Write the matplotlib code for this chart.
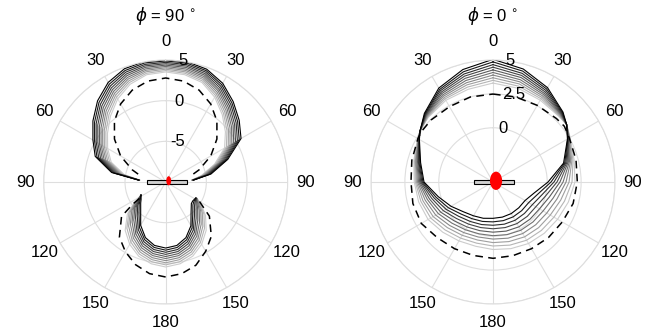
import numpy as np
import matplotlib
matplotlib.use("Agg")
import matplotlib.pyplot as plt
from matplotlib.patches import Ellipse, Rectangle

plt.rcParams['font.family'] = ['Liberation Sans', 'DejaVu Sans']
plt.rcParams['mathtext.fontset'] = 'dejavusans'

# ---------------------------------------------------------------------------
# Gain patterns (dB).  Angles in degrees, measured clockwise from the zenith.
# Each table row is one angle, each column one step of the parameter sweep
# (first column = darkest curve).
# ---------------------------------------------------------------------------

# phi = 90 deg cut, main lobe
front90_theta = [-86, -80, -70, -60, -50, -40, -30, -20, -10, 0,
                 10, 20, 30, 40, 50, 60, 70, 80, 86]
front90_gain = [
    [-6.68, -6.69, -6.71, -6.72, -6.73, -6.75, -6.76, -6.77, -6.79, -6.80],
    [-3.24, -3.42, -3.60, -3.77, -3.95, -4.13, -4.31, -4.48, -4.66, -4.84],
    [-0.78, -1.01, -1.24, -1.48, -1.71, -1.94, -2.17, -2.40, -2.64, -2.87],
    [0.33, 0.10, -0.13, -0.37, -0.60, -0.83, -1.06, -1.29, -1.53, -1.76],
    [1.68, 1.42, 1.16, 0.90, 0.64, 0.38, 0.12, -0.14, -0.40, -0.66],
    [3.03, 2.76, 2.48, 2.21, 1.94, 1.66, 1.39, 1.12, 0.84, 0.57],
    [4.14, 3.88, 3.62, 3.36, 3.10, 2.84, 2.58, 2.32, 2.06, 1.80],
    [4.82, 4.59, 4.37, 4.14, 3.92, 3.69, 3.47, 3.24, 3.02, 2.79],
    [5.05, 4.87, 4.68, 4.50, 4.32, 4.13, 3.95, 3.77, 3.58, 3.40],
    [5.05, 4.88, 4.71, 4.54, 4.37, 4.21, 4.04, 3.87, 3.70, 3.53],
    [5.03, 4.85, 4.67, 4.49, 4.31, 4.12, 3.94, 3.76, 3.58, 3.40],
    [4.76, 4.57, 4.38, 4.18, 3.99, 3.80, 3.61, 3.42, 3.22, 3.03],
    [4.02, 3.80, 3.58, 3.36, 3.14, 2.93, 2.71, 2.49, 2.27, 2.05],
    [2.91, 2.68, 2.45, 2.21, 1.98, 1.75, 1.52, 1.29, 1.05, 0.82],
    [1.80, 1.55, 1.31, 1.06, 0.82, 0.57, 0.33, 0.08, -0.16, -0.41],
    [0.70, 0.44, 0.18, -0.08, -0.34, -0.60, -0.86, -1.12, -1.38, -1.64],
    [-1.88, -2.07, -2.26, -2.46, -2.65, -2.84, -3.03, -3.23, -3.42, -3.61],
    [-4.34, -4.48, -4.61, -4.75, -4.89, -5.02, -5.16, -5.30, -5.43, -5.57],
    [-6.56, -6.59, -6.61, -6.64, -6.67, -6.69, -6.72, -6.75, -6.77, -6.80],
]

# phi = 90 deg cut, back lobe
back90_theta = [118, 125, 130, 140, 150, 160, 170, 180,
                190, 200, 210, 220, 230, 235, 242]
back90_gain = [
    [-5.82, -5.79, -5.76, -5.74, -5.71, -5.68, -5.65, -5.63, -5.60, -5.57],
    [-5.94, -5.78, -5.61, -5.45, -5.29, -5.12, -4.96, -4.80, -4.63, -4.47],
    [-5.88, -5.63, -5.38, -5.12, -4.87, -4.62, -4.37, -4.12, -3.86, -3.61],
    [-5.14, -4.82, -4.50, -4.18, -3.86, -3.53, -3.21, -2.89, -2.57, -2.25],
    [-3.79, -3.50, -3.20, -2.91, -2.62, -2.33, -2.03, -1.74, -1.44, -1.15],
    [-2.72, -2.45, -2.18, -1.91, -1.64, -1.37, -1.10, -0.83, -0.56, -0.29],
    [-2.08, -1.83, -1.57, -1.32, -1.06, -0.81, -0.55, -0.30, -0.05, 0.21],
    [-1.88, -1.62, -1.36, -1.10, -0.84, -0.59, -0.33, -0.07, 0.19, 0.45],
    [-2.08, -1.83, -1.57, -1.32, -1.06, -0.81, -0.55, -0.30, -0.05, 0.21],
    [-2.72, -2.45, -2.18, -1.91, -1.64, -1.37, -1.10, -0.83, -0.56, -0.29],
    [-3.85, -3.55, -3.25, -2.95, -2.65, -2.35, -2.05, -1.75, -1.45, -1.15],
    [-5.22, -4.89, -4.56, -4.23, -3.90, -3.57, -3.24, -2.91, -2.58, -2.25],
    [-5.99, -5.75, -5.51, -5.28, -5.04, -4.80, -4.56, -4.32, -4.09, -3.85],
    [-6.31, -6.17, -6.04, -5.90, -5.76, -5.62, -5.49, -5.35, -5.21, -5.08],
    [-6.56, -6.56, -6.56, -6.56, -6.56, -6.56, -6.56, -6.56, -6.56, -6.56],
]

# phi = 90 deg cut, reference pattern (dashed)
ref90_front_theta = [-74, -70, -60, -50, -40, -30, -20, -10, 0,
                     10, 20, 30, 40, 50, 60, 70, 74]
ref90_front_gain = [-6.48, -5.63, -3.60, -1.78, -0.20, 1.08, 2.02, 2.60, 2.79,
                    2.60, 2.02, 1.08, -0.20, -1.78, -3.60, -5.63, -6.48]
ref90_back_theta = [120, 128, 140, 150, 160, 170, 180,
                    190, 200, 210, 220, 232, 236, 239]
ref90_back_gain = [-5.20, -3.18, -1.27, -0.16, 0.88, 1.44, 1.68,
                   1.44, 0.82, -0.10, -1.15, -3.11, -5.08, -6.56]

# phi = 0 deg cut, full turn
cut0_theta = [0, 15, 30, 45, 52, 60, 75, 90, 105, 120, 135, 150, 165,
              180, 195, 210, 225, 240, 255, 270, 285, 300, 305, 315, 330, 345]
cut0_gain = [
    [5.05, 4.86, 4.66, 4.47, 4.27, 4.08, 3.89, 3.69, 3.50, 3.30],
    [4.63, 4.47, 4.30, 4.14, 3.98, 3.81, 3.65, 3.49, 3.32, 3.16],
    [4.04, 3.92, 3.80, 3.68, 3.56, 3.45, 3.33, 3.21, 3.09, 2.97],
    [3.30, 3.25, 3.20, 3.15, 3.10, 3.06, 3.01, 2.96, 2.91, 2.86],
    [2.89, 2.89, 2.89, 2.89, 2.89, 2.89, 2.89, 2.89, 2.89, 2.89],
    [2.34, 2.37, 2.39, 2.42, 2.44, 2.47, 2.49, 2.52, 2.54, 2.57],
    [1.39, 1.48, 1.57, 1.66, 1.75, 1.84, 1.93, 2.02, 2.11, 2.20],
    [0.06, 0.28, 0.50, 0.72, 0.94, 1.17, 1.39, 1.61, 1.83, 2.05],
    [-0.86, -0.57, -0.28, 0.01, 0.30, 0.59, 0.88, 1.17, 1.46, 1.75],
    [-1.27, -0.96, -0.65, -0.35, -0.04, 0.27, 0.58, 0.88, 1.19, 1.50],
    [-1.31, -1.01, -0.72, -0.42, -0.13, 0.17, 0.46, 0.76, 1.05, 1.35],
    [-1.31, -1.03, -0.74, -0.46, -0.18, 0.11, 0.39, 0.67, 0.96, 1.24],
    [-1.32, -1.05, -0.78, -0.52, -0.25, 0.02, 0.29, 0.55, 0.82, 1.09],
    [-1.32, -1.06, -0.81, -0.55, -0.30, -0.04, 0.21, 0.47, 0.72, 0.98],
    [-1.23, -0.99, -0.75, -0.52, -0.28, -0.04, 0.20, 0.43, 0.67, 0.91],
    [-1.12, -0.88, -0.64, -0.41, -0.17, 0.07, 0.31, 0.54, 0.78, 1.02],
    [-0.90, -0.66, -0.42, -0.19, 0.05, 0.29, 0.53, 0.76, 1.00, 1.24],
    [-0.42, -0.20, 0.01, 0.23, 0.45, 0.66, 0.88, 1.10, 1.31, 1.53],
    [0.18, 0.35, 0.51, 0.68, 0.85, 1.01, 1.18, 1.35, 1.51, 1.68],
    [1.09, 1.17, 1.25, 1.33, 1.41, 1.49, 1.57, 1.65, 1.73, 1.81],
    [1.53, 1.59, 1.65, 1.70, 1.76, 1.82, 1.88, 1.93, 1.99, 2.05],
    [2.27, 2.29, 2.30, 2.32, 2.34, 2.35, 2.37, 2.39, 2.40, 2.42],
    [2.57, 2.57, 2.57, 2.57, 2.57, 2.57, 2.57, 2.57, 2.57, 2.57],
    [3.16, 3.11, 3.07, 3.02, 2.98, 2.93, 2.89, 2.84, 2.80, 2.75],
    [4.00, 3.88, 3.77, 3.65, 3.54, 3.42, 3.31, 3.19, 3.08, 2.96],
    [4.59, 4.42, 4.25, 4.09, 3.92, 3.75, 3.58, 3.42, 3.25, 3.08],
]
ref0_gain = [2.49, 2.49, 2.53, 2.62, 2.68, 2.50, 2.34, 2.22, 2.12, 1.90, 1.79,
             1.68, 1.63, 1.63, 1.61, 1.68, 1.81, 2.11, 2.12, 2.05, 2.20, 2.40,
             2.46, 2.47, 2.42, 2.49]

theta_tick_labels = ['0', '30', '60', '90', '120', '150', '180',
                     '150', '120', '90', '60', '30']
titles = [r'$\phi$ = 90 $^{\circ}$', r'$\phi$ = 0 $^{\circ}$']

# ---------------------------------------------------------------------------
GRID = '#dedede'
N_SWEEP = len(cut0_gain[0])
shades = [str(v) for v in np.linspace(0.0, 0.8, N_SWEEP)]

fig = plt.figure(figsize=(6.51, 3.35), dpi=100)
rects = [[0.0671, 0.0925, 0.3748, 0.7284], [0.5699, 0.0925, 0.3748, 0.7284]]
centers_x = [165.7 / 651, 493.0 / 651]
RLABEL_ANGLE = np.deg2rad(6)


def style_polar(ax, rmin, rmax, rticks, rlabels):
    ax.set_theta_zero_location('N')
    ax.set_theta_direction(-1)
    ax.set_rlim(rmin, rmax)
    ax.set_rticks(rticks)
    ax.set_yticklabels([])
    for r, s in zip(rticks, rlabels):
        ax.text(RLABEL_ANGLE, r, s, ha='left', va='center', fontsize=12,
                zorder=5, clip_on=False)
    ax.set_thetagrids(np.arange(0, 360, 30), labels=theta_tick_labels, fontsize=12)
    ax.tick_params(axis='x', pad=2.5)
    ax.grid(True, color=GRID, lw=0.8)
    ax.spines['polar'].set_color(GRID)
    ax.spines['polar'].set_linewidth(0.8)
    ax.set_facecolor('white')


def draw_sweep(ax, theta_deg, table, closed=False):
    th = np.deg2rad(np.asarray(theta_deg, float))
    g = np.asarray(table, float)
    if closed:
        th = np.append(th, th[0] + 2 * np.pi)
        g = np.vstack([g, g[:1]])
    for k in range(g.shape[1] - 1, -1, -1):
        ax.plot(th, g[:, k], color=shades[k], lw=0.8)


def draw_reference(ax, theta_deg, gain, closed=False):
    th = np.deg2rad(np.asarray(theta_deg, float))
    g = np.asarray(gain, float)
    if closed:
        th = np.append(th, th[0] + 2 * np.pi)
        g = np.append(g, g[0])
    ax.plot(th, g, color='black', lw=1.1, ls=(0, (5, 3.5)))


# left panel: phi = 90 deg
ax1 = fig.add_axes(rects[0], projection='polar')
style_polar(ax1, -10, 5, [-5, 0, 5], ['-5', '0', '5'])
draw_sweep(ax1, front90_theta, front90_gain)
draw_sweep(ax1, back90_theta, back90_gain)
draw_reference(ax1, ref90_front_theta, ref90_front_gain)
draw_reference(ax1, ref90_back_theta, ref90_back_gain)

# right panel: phi = 0 deg
ax2 = fig.add_axes(rects[1], projection='polar')
style_polar(ax2, -4, 5, [0, 2.5, 5], ['0', '2.5', '5'])
draw_sweep(ax2, cut0_theta, cut0_gain, closed=True)
draw_reference(ax2, cut0_theta, ref0_gain, closed=True)

# antenna sketch at the origin of each panel (units: fraction of plot radius)
element_half_len = 0.165
element_thick = 0.032
feed_size = [(0.04, 0.075), (0.10, 0.15)]
for rect, fs in zip(rects, feed_size):
    ov = fig.add_axes(rect, facecolor='none')
    ov.set_xlim(-1, 1)
    ov.set_ylim(-1, 1)
    ov.axis('off')
    ov.add_patch(Rectangle((-element_half_len + 0.01, -element_thick / 2),
                           2 * element_half_len, element_thick,
                           facecolor='#d0d0d0', edgecolor='black', lw=0.8))
    ov.add_patch(Ellipse((0.025, 0.01), fs[0], fs[1], color='red', lw=0))

for cx, t in zip(centers_x, titles):
    fig.text(cx, 1 - 16 / 335, t, ha='center', va='center', fontsize=12)

fig.savefig('out.png', dpi=100)
